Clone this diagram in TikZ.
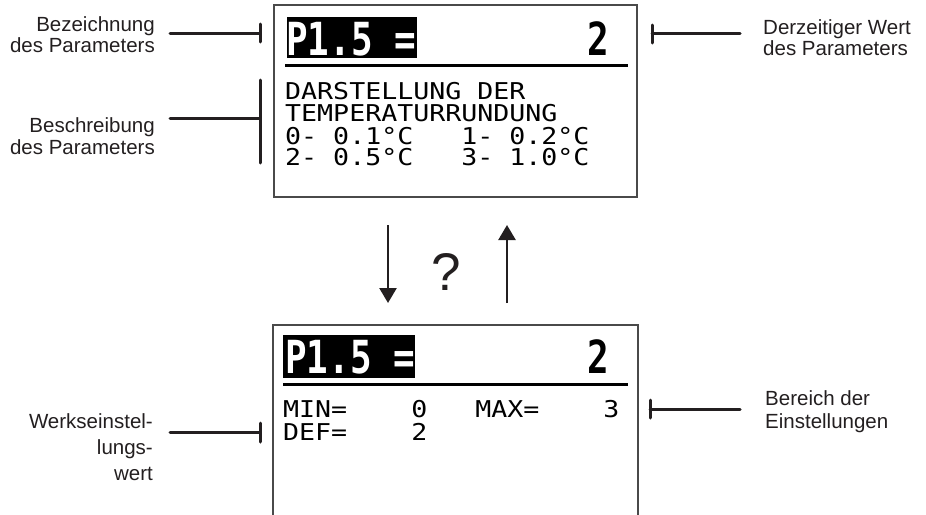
\documentclass[tikz,border=0pt]{standalone}
\usepackage{fontspec}
\usepackage{graphicx}
\setmainfont{Liberation Sans}
\newfontfamily\lcdfont{DejaVu Sans Mono}
\usetikzlibrary{arrows.meta}
\definecolor{labelgray}{HTML}{231F20}
\definecolor{boxgray}{HTML}{4A4A4A}
\newcommand{\lcdsmall}[1]{\scalebox{1}[0.87]{#1}}
\newcommand{\lcdbig}[1]{\scalebox{1}[1.27]{#1}}
\begin{document}
\begin{tikzpicture}[x=1pt,y=-1pt,
  lbl/.style={inner sep=0pt, text=labelgray, font=\fontsize{20.5}{21}\selectfont},
  lead/.style={line width=3pt, line cap=round, draw=labelgray},
  lcdbox/.style={line width=1.3pt, draw=boxgray},
  sepline/.style={line width=3pt, draw=black},
  small/.style={inner sep=0pt, anchor=base west, font=\lcdfont\fontsize{26.6}{26.6}\selectfont},
  big/.style={inner sep=0pt, font=\lcdfont\bfseries\fontsize{35.9}{35.9}\selectfont},
  flow/.style={line width=2.5pt, draw=labelgray, -{Triangle[width=17pt,length=15pt]}}]
\useasboundingbox (0,0) rectangle (926,514);

% ---------- upper display ----------
\draw[lcdbox] (274,5) rectangle (637,197);
\fill[black] (287,17) rectangle (417,58);
\node[big, text=white, anchor=base west] (hA) at (286,55) {\lcdbig{P1.5 =}};
\node[big, text=black, anchor=base east] (vA) at (609,55) {\lcdbig{2}};
\draw[sepline] (285,65) -- (628,65);
\node[small] (d1) at (285,99) {\lcdsmall{DARSTELLUNG\ DER}};
\node[small] (d2) at (285,121) {\lcdsmall{TEMPERATURRUNDUNG}};
\node[small] (d3) at (285,144) {\lcdsmall{0-\ 0.1°C\ \ \ 1-\ 0.2°C}};
\node[small] (d4) at (285,165) {\lcdsmall{2-\ 0.5°C\ \ \ 3-\ 1.0°C}};

% ---------- lower display ----------
\draw[lcdbox] (273,520) -- (273,325) -- (638,325) -- (638,520);
\fill[black] (283,335) rectangle (415,378);
\node[big, text=white, anchor=base west] (hB) at (285,373) {\lcdbig{P1.5 =}};
\node[big, text=black, anchor=base east] (vB) at (609,373) {\lcdbig{2}};
\draw[sepline] (283,384) -- (628,384);
\node[small] (m1) at (283,417) {\lcdsmall{MIN=\ \ \ \ 0\ \ \ MAX=\ \ \ \ 3}};
\node[small] (m2) at (283,440) {\lcdsmall{DEF=\ \ \ \ 2}};

% ---------- arrows ----------
\coordinate (dnS) at (388,225);
\coordinate (dnE) at (388,303);
\coordinate (upS) at (507,303);
\coordinate (upE) at (507,225);
\draw[flow] (dnS) -- (dnE);
\draw[flow] (upS) -- (upE);
\node[inner sep=0pt, text=labelgray, font=\fontsize{53}{53}\selectfont] (q) at (446,272) {?};

% ---------- labels ----------
\node[lbl, align=right, anchor=north east] (bez) at (155,16) {Bezeichnung\\des Parameters};
\coordinate (bezS) at (170,33);
\coordinate (bezT) at (260,33);
\draw[lead] (bezS) -- (bezT);
\draw[lead] (260,24) -- (260,42);

\node[lbl, align=right, anchor=north east, font=\fontsize{20.5}{22}\selectfont] (besch) at (155,117) {Beschreibung\\des Parameters};
\coordinate (beschS) at (170,118);
\coordinate (beschT) at (260,118);
\draw[lead] (beschS) -- (beschT);
\draw[lead] (260,80) -- (260,163);

\node[lbl, align=left, anchor=north west] (derz) at (763,19) {Derzeitiger Wert\\des Parameters};
\coordinate (derzS) at (740,33);
\coordinate (derzT) at (652,33);
\draw[lead] (derzS) -- (derzT);
\draw[lead] (652,25) -- (652,43);

\node[lbl, align=right, anchor=north east, font=\fontsize{20.5}{26}\selectfont] (werk) at (153,413) {Werkseinstel-\\lungs-\\wert};
\coordinate (werkS) at (170,432);
\coordinate (werkT) at (260,432);
\draw[lead] (werkS) -- (werkT);
\draw[lead] (260,423) -- (260,442);

\node[lbl, align=left, anchor=north west, font=\fontsize{20.5}{23}\selectfont] (ber) at (765,390) {Bereich der\\Einstellungen};
\coordinate (berS) at (740,409);
\coordinate (berT) at (650,409);
\draw[lead] (berS) -- (berT);
\draw[lead] (650,400) -- (650,418);
\end{tikzpicture}
\end{document}
